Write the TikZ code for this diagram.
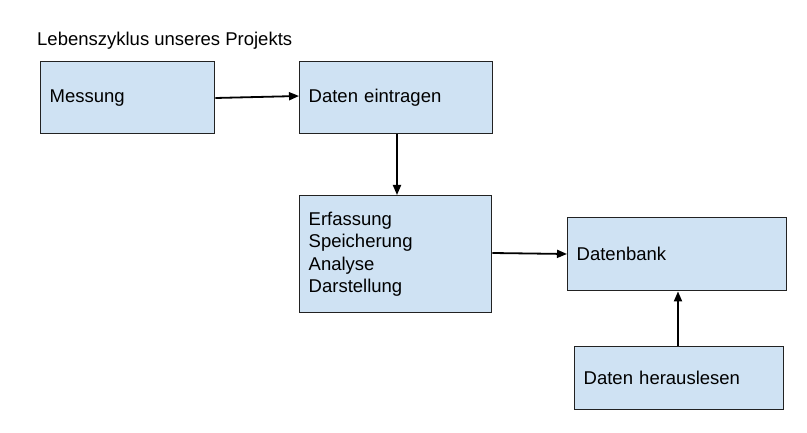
\documentclass[tikz,border=0pt]{standalone}
\usepackage{fontspec}
\setmainfont{Liberation Sans}
\usetikzlibrary{arrows.meta}
\definecolor{boxfill}{HTML}{CFE2F3}
\definecolor{boxline}{HTML}{222222}
\tikzset{
  blk/.style={draw=boxline, line width=1.4pt, fill=boxfill, anchor=north west,
    inner xsep=9pt, inner ysep=0pt, align=left, font=\fontsize{18.5}{22.5}\selectfont},
  conn/.style={line width=1.8pt, -{Triangle[length=10pt,width=8pt]}}
}
\begin{document}
\begin{tikzpicture}[x=1pt,y=-1pt]
\useasboundingbox (0,0) rectangle (807,433);
\node[anchor=base west, inner sep=0pt, font=\fontsize{18.5}{21}\selectfont] (title) at (37,45.5) {Lebenszyklus unseres Projekts};
\node[blk, text width=156pt, minimum height=72pt] (mess) at (40,61) {Messung};
\node[blk, text width=175pt, minimum height=72pt] (eintr) at (299,61) {Daten eintragen};
\node[blk, text width=174pt, minimum height=117pt] (erf) at (299,195) {Erfassung\\Speicherung\\Analyse\\Darstellung};
\node[blk, text width=201pt, minimum height=73pt] (db) at (567,217) {Datenbank};
\node[blk, text width=191pt, minimum height=63pt] (her) at (574,346) {Daten herauslesen};
\draw[conn] (mess.east |- 0,98) -- (eintr.west |- 0,96);
\draw[conn] (eintr.south -| 397,0) -- (erf.north -| 397,0);
\draw[conn] (erf.east |- 0,253) -- (db.west |- 0,254);
\draw[conn] (her.north -| 678,0) -- (db.south -| 678,0);
\end{tikzpicture}
\end{document}
